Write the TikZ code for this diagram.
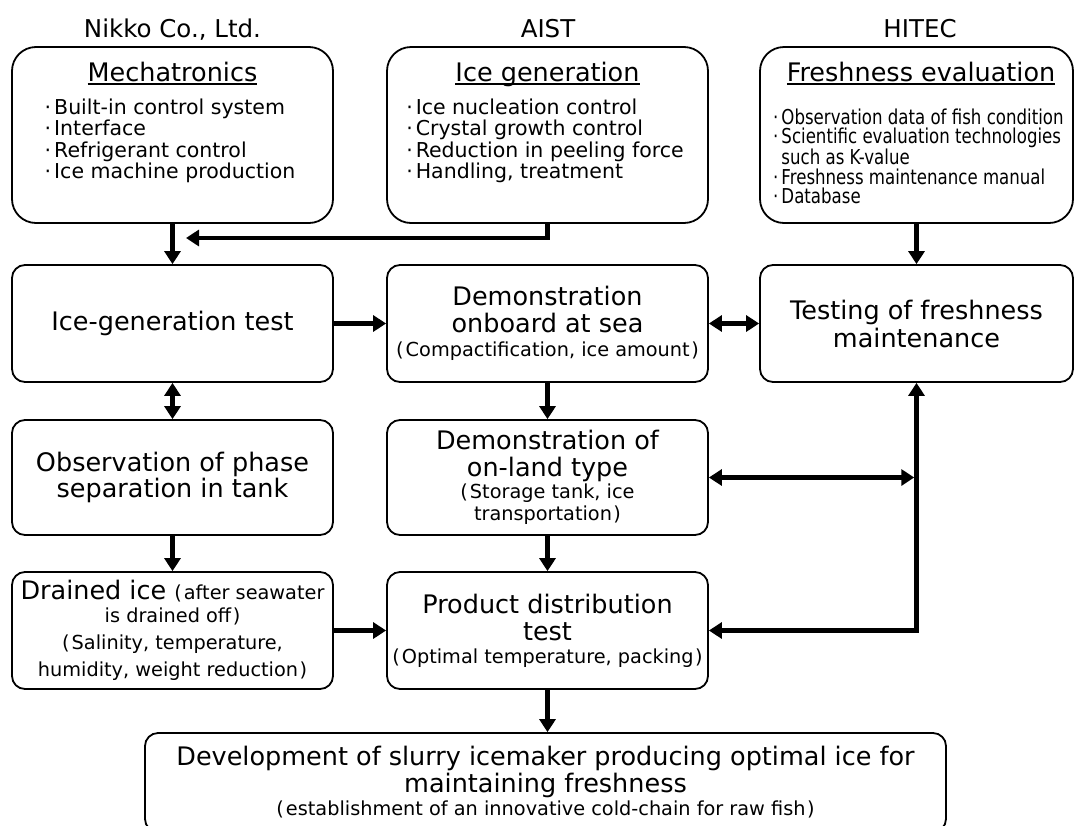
\documentclass[tikz,border=0pt]{standalone}
\usepackage{fontspec}
\setmainfont{DejaVu Sans}
\newfontfamily\estrecha[FakeStretch=0.81]{DejaVu Sans}
\usetikzlibrary{arrows.meta}

\newcommand\grande{\fontsize{25.5pt}{26.5pt}\selectfont}
\newcommand\lista{\fontsize{20.5pt}{21.5pt}\selectfont}
\newcommand\chica{\fontsize{19.3pt}{22pt}\selectfont}
\newcommand\vineta{·\hspace{3pt}}
\newcommand\abre{(\hspace{2pt}}
\newcommand\cierra{\hspace{1.5pt})}
\newcommand\subr[1]{\setbox0=\hbox{#1}\rlap{\rule[-4pt]{\wd0}{1.8pt}}\box0}

\begin{document}
\begin{tikzpicture}[
    x=1pt,
    y=-1pt,
    >={Triangle[length=13pt,width=16pt]},
    caja/.style={draw, line width=1.8pt, rounded corners=13pt, inner sep=0pt,
        align=center, font=\grande, minimum width=321pt},
    cajaalta/.style={caja, rounded corners=24pt, minimum height=176pt},
    flecha/.style={->, line width=4.5pt, line join=miter},
    doble/.style={<->, line width=4.5pt, line join=miter},
    empresa/.style={font=\fontsize{24.5pt}{26pt}\selectfont, anchor=base},
    encabezado/.style={font=\grande, anchor=base},
    vinetas/.style={font=\lista, align=left, inner sep=0pt, anchor=north}
]
\useasboundingbox (0,0) rectangle (1075,825);
\clip (0,0) rectangle (1075,825);

% Instituciones
\node[empresa] (nikko) at (172.5,37) {Nikko Co., Ltd.};
\node[empresa] (aist) at (548,37) {AIST};
\node[empresa] (hitec) at (920,37) {HITEC};

% Fila 1: temas de cada institución
\node[cajaalta] (meca) at (172.5,135) {};
\node[cajaalta] (hielo) at (547.5,135) {};
\node[cajaalta, minimum width=313pt] (fresco) at (916.5,135) {};

\node[encabezado] (cabMeca) at (172.5,81) {\subr{Mechatronics}};
\node[vinetas] (listaMeca) at (170,98.4) {%
    \vineta Built-in control system\\
    \vineta Interface\\
    \vineta Refrigerant control\\
    \vineta Ice machine production};

\node[encabezado] (cabHielo) at (547.5,81) {\subr{Ice generation}};
\node[vinetas] (listaHielo) at (545,98.4) {%
    \vineta Ice nucleation control\\
    \vineta Crystal growth control\\
    \vineta Reduction in peeling force\\
    \vineta Handling, treatment};

\node[encabezado] (cabFresco) at (921,81) {\subr{Freshness evaluation}};
\node[vinetas, font=\estrecha\fontsize{20.5pt}{19.5pt}\selectfont, anchor=north west]
    (listaFresco) at (773,108.4) {%
    \vineta Observation data of fish condition\\
    \vineta Scientific evaluation technologies\\
    \phantom{\vineta}such as K-value\\
    \vineta Freshness maintenance manual\\
    \vineta Database};

% Fila 2
\node[caja, minimum height=117pt] (prueba) at (172.5,323.5) {Ice-generation test};
\node[caja, minimum height=117pt] (demoMar) at (547.5,323.5)
    {Demonstration\\onboard at sea\\[-2.5pt]{\chica\abre Compactification, ice amount\cierra}};
\node[caja, minimum width=313pt, minimum height=117pt] (pruebaFresco) at (916.5,323.5)
    {Testing of freshness\\[1.5pt]maintenance};

% Fila 3
\node[caja, minimum height=115pt] (obs) at (172.5,477.5)
    {Observation of phase\\separation in tank};
\node[caja, minimum height=115pt] (demoTierra) at (547.5,477.5)
    {Demonstration of\\on-land type\\[-4.5pt]{\chica\abre Storage tank, ice}\\[-4.5pt]{\chica transportation\cierra}};

% Fila 4
\node[caja, minimum height=117pt] (drenado) at (172.5,630.5)
    {Drained ice {\chica\abre after seawater}\\[-3.5pt]{\chica is drained off\cierra}\\[0.5pt]{\chica\abre Salinity, temperature,}\\[0.5pt]{\chica humidity, weight reduction\cierra}};
\node[caja, minimum height=117pt] (producto) at (547.5,630.5)
    {Product distribution\\[0.5pt]test\\[-3.5pt]{\chica\abre Optimal temperature, packing\cierra}};

% Resultado
\node[caja, minimum width=801pt, minimum height=99pt] (final) at (545.5,782.5)
    {Development of slurry icemaker producing optimal ice for\\[0.5pt]maintaining freshness\\[-3.5pt]{\chica\abre establishment of an innovative cold-chain for raw fish\cierra}};

% Flechas
\coordinate (puntaHielo) at (186,238);
\coordinate (esquina) at (pruebaFresco.south |- producto.east);
\coordinate (cruce) at (esquina |- demoTierra.east);

\draw[flecha] (meca.south) -- (prueba.north);
\draw[flecha] (hielo.south) |- (puntaHielo);
\draw[flecha] (fresco.south) -- (pruebaFresco.north);
\draw[flecha] (prueba.east) -- (demoMar.west);
\draw[doble] (demoMar.east) -- (pruebaFresco.west);
\draw[doble] (prueba.south) -- (obs.north);
\draw[flecha] (demoMar.south) -- (demoTierra.north);
\draw[flecha] (obs.south) -- (drenado.north);
\draw[flecha] (demoTierra.south) -- (producto.north);
\draw[flecha] (drenado.east) -- (producto.west);
\draw[flecha] (producto.south) -- (producto.south |- final.north);
\draw[doble] (pruebaFresco.south) -- (esquina) -- (producto.east);
\draw[doble] (demoTierra.east) -- ([xshift=-2.25pt]cruce);

\end{tikzpicture}
\end{document}
